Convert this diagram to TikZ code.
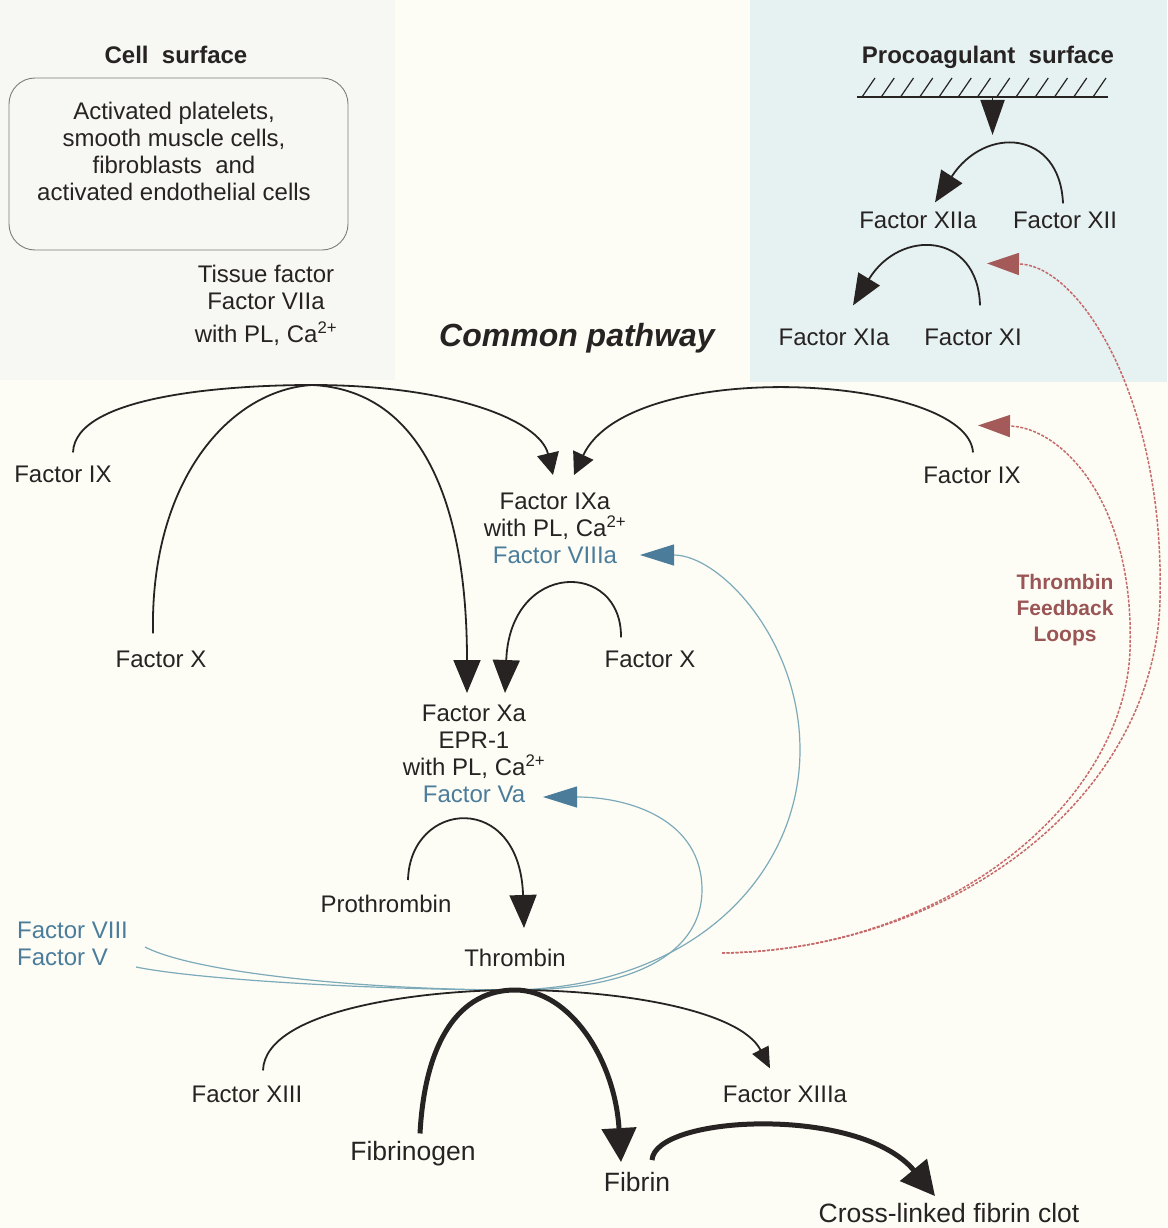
\documentclass[tikz,border=0pt]{standalone}
\usepackage{fontspec}
\setmainfont{Liberation Sans}
\usepackage{xcolor}
\usepackage{tikz}
\usetikzlibrary{calc}
\usetikzlibrary{arrows.meta}

\definecolor{ink}{RGB}{40,35,35}
\definecolor{paper}{RGB}{253,253,246}
\definecolor{cellbg}{RGB}{247,247,244}
\definecolor{procbg}{RGB}{230,242,242}
\definecolor{boxgray}{RGB}{125,125,120}
\definecolor{cofblue}{RGB}{75,125,155}
\definecolor{cofline}{RGB}{125,170,185}
\definecolor{looptext}{RGB}{155,85,85}
\definecolor{loopline}{RGB}{200,105,105}
\definecolor{looptip}{RGB}{165,90,90}

\tikzset{
	lbl/.style={font=\fontsize{24}{27}\selectfont, text=ink, inner sep=0pt, align=center},
	cof/.style={lbl, text=cofblue},
	big/.style={lbl, font=\fontsize{26.5}{30}\selectfont},
	head/.style={lbl, font=\fontsize{24}{27}\selectfont\bfseries},
	pathtitle/.style={lbl, font=\fontsize{32}{38}\selectfont\bfseries\itshape},
	loops/.style={lbl, font=\fontsize{21}{26}\selectfont\bfseries, text=looptext},
	cellbox/.style={draw=boxgray, line width=0.9pt, rounded corners=26pt,
		minimum width=339pt, minimum height=172pt, inner sep=0pt},
	surface/.style={draw=ink, line width=1.2pt},
	reaction/.style={draw=ink, line width=1.8pt},
	mainflow/.style={draw=ink, line width=5pt},
	cofactor/.style={draw=cofline, line width=1.2pt},
	feedback/.style={draw=loopline, line width=1.5pt, dash pattern=on 3pt off 1.5pt},
	tipbig/.style={-{Triangle[length=35pt,width=24pt]}},
	tipmid/.style={-{Triangle[length=31pt,width=25pt]}},
	tipIXa/.style={-{Triangle[length=22pt,width=22pt]}},
	tipXa/.style={-{Triangle[length=33pt,width=27pt]}},
	tipsmall/.style={-{Triangle[length=21pt,width=18pt]}},
	tipheavy/.style={-{Triangle[length=34pt,width=34pt]}},
	tipblue/.style={-{Triangle[length=34pt,width=21pt,color=cofblue]}},
	tipred/.style={-{Triangle[length=32pt,width=22pt,color=looptip]}},
}

\begin{document}
\begin{tikzpicture}[x=1pt,y=-1pt]
	% Panels
	\useasboundingbox (0,0) rectangle (1167,1228);
	\fill[paper] (0,0) rectangle (1167,1228);
	\fill[cellbg] (0,0) rectangle (395,380);
	\fill[procbg] (750,0) rectangle (1167,382);

	% Cell surface
	\node[head] (cellhead) at (176,55) {Cell\ \ surface};
	\node[cellbox] (cellbox) at (178.5,164) {};
	\node[lbl, anchor=north] (cells) at (174,102) {Activated platelets,\\smooth muscle cells,\\fibroblasts\ \ and\\activated endothelial cells};
	\node[lbl, anchor=north] (tf) at (266,265) {Tissue factor\\Factor VIIa\\[6pt]with PL, Ca\textsuperscript{2+}};
	\coordinate (tfhub) at (312,385);

	% Procoagulant surface
	\node[head] (prochead) at (988,57.5) {Procoagulant\ \ surface};
	\coordinate (surfL) at (857,97);
	\coordinate (surfR) at (1108,97);
	\draw[surface] (surfL) -- (surfR);
	\foreach \i in {0,...,12}
		\draw[surface] ($(surfL)+(5+19.25*\i,0)$) -- ++(13,-19);
	\coordinate (surfC) at ($(surfL)!0.54!(surfR)$);
	\coordinate (contact) at ($(surfC)+(0,38)$);
	\draw[reaction, tipbig] (surfC) -- (contact);

	\node[lbl] (xiia) at (918,220) {Factor XIIa};
	\node[lbl] (xii) at (1065,220) {Factor XII};
	\node[lbl] (xia) at (834,337) {Factor XIa};
	\node[lbl] (xi) at (973,337) {Factor XI};
	\draw[reaction, tipmid] ($(xii.north)+(-2,-8)$) .. controls (1060,130) and (985,125) .. ($(xiia.north)+(17,-9)$);
	\draw[reaction, tipmid] ($(xi.north)+(7,-23)$) .. controls (978,232) and (900,228) .. ($(xia.north)+(19,-23)$);

	\node[pathtitle] (common) at (577,338) {Common pathway};

	% Tenase and prothrombinase
	\node[lbl] (ixL) at (63,474) {Factor IX};
	\node[lbl] (ixR) at (972,475) {Factor IX};
	\node[lbl] (xL) at (161,659) {Factor X};
	\node[lbl] (xR) at (650,659) {Factor X};
	\node[lbl, anchor=north] (ixa) at (555,493) {Factor IXa\\with PL, Ca\textsuperscript{2+}\\\textcolor{cofblue}{Factor VIIIa}};
	\node[lbl, anchor=north] (xa) at (474,705) {Factor Xa\\EPR-1\\with PL, Ca\textsuperscript{2+}\\\textcolor{cofblue}{Factor Va}};

	\draw[reaction] ($(ixL.north)+(10,-13)$) .. controls (75,395) and (230,385) .. (tfhub);
	\draw[reaction] ($(xL.north)+(-8,-17)$) .. controls (150,480) and (230,390) .. (tfhub);
	\draw[reaction, tipIXa] (tfhub) .. controls (450,385) and (540,420) .. ($(ixa.north)+(-2,-18)$);
	\draw[reaction, tipXa] (tfhub) .. controls (420,390) and (467,500) .. ($(xa.north)+(-7,-12)$);
	\draw[reaction, tipIXa] ($(ixR.north)+(1,-14)$) .. controls (968,375) and (630,355) .. ($(ixa.north)+(19,-18)$);
	\draw[reaction, tipXa] ($(xR.north)+(-29,-13)$) .. controls (622,560) and (510,560) .. ($(xa.north)+(31,-12)$);

	% Thrombin
	\node[lbl] (proth) at (386,904) {Prothrombin};
	\node[lbl] (thr) at (515,958) {Thrombin};
	\coordinate (thrhub) at (515,990);
	\draw[reaction, tipXa] ($(proth.north)+(22,-15)$) .. controls (410,800) and (520,790) .. ($(thr.north)+(9,-21)$);

	% Cofactors
	\node[cof, align=left, anchor=north west] (f8f5) at (17,922) {Factor VIII\\Factor V};
	\draw[cofactor] ($(f8f5.north west)+(128,25)$) .. controls (200,975) and (380,990) .. (thrhub);
	\draw[cofactor] ($(f8f5.north west)+(119,45)$) .. controls (200,980) and (380,990) .. (thrhub);
	\draw[cofactor, tipblue] (thrhub) .. controls (700,985) and (800,870) .. (800,750)
		.. controls (800,640) and (720,555) .. ($(ixa.north)+(85,62)$);
	\draw[cofactor, tipblue] (thrhub) .. controls (640,990) and (702,950) .. (702,890)
		.. controls (702,820) and (630,797) .. ($(xa.north)+(69,92)$);

	% Thrombin feedback
	\node[loops, anchor=north] (loops) at (1065,574) {Thrombin\\Feedback\\Loops};
	\coordinate (fbstart) at (722,953);
	\draw[feedback, tipred] (fbstart) .. controls (950,950) and (1125,800) .. (1130,650)
		.. controls (1135,500) and (1060,427) .. ($(ixR.north)+(6,-41)$);
	\draw[feedback, tipred] (fbstart) .. controls (950,950) and (1155,800) .. (1160,600)
		.. controls (1165,400) and (1080,265) .. ($(xii.north)+(-78,52)$);

	% Fibrin clot
	\node[lbl] (xiii) at (247,1094) {Factor XIII};
	\node[lbl] (xiiia) at (785,1094) {Factor XIIIa};
	\node[big] (fbg) at (413,1154) {Fibrinogen};
	\node[big] (fbn) at (637,1182) {Fibrin};
	\node[big] (clot) at (949,1213) {Cross-linked fibrin clot};
	\draw[reaction] ($(xiii.north)+(16,-15)$) .. controls (265,1010) and (420,990) .. (thrhub);
	\draw[reaction, tipsmall] (thrhub) .. controls (620,990) and (740,1010) .. ($(xiiia.north)+(-15,-17)$);
	\draw[mainflow, tipheavy] ($(fbg.north)+(7,-8)$) .. controls (425,1040) and (460,990) .. (thrhub)
		.. controls (570,990) and (615,1060) .. ($(fbn.north)+(-16,-10)$);
	\draw[mainflow, tipheavy] ($(fbn.north)+(15,-12)$) .. controls (655,1115) and (860,1105) .. ($(clot.north)+(-14,-7)$);
\end{tikzpicture}
\end{document}
